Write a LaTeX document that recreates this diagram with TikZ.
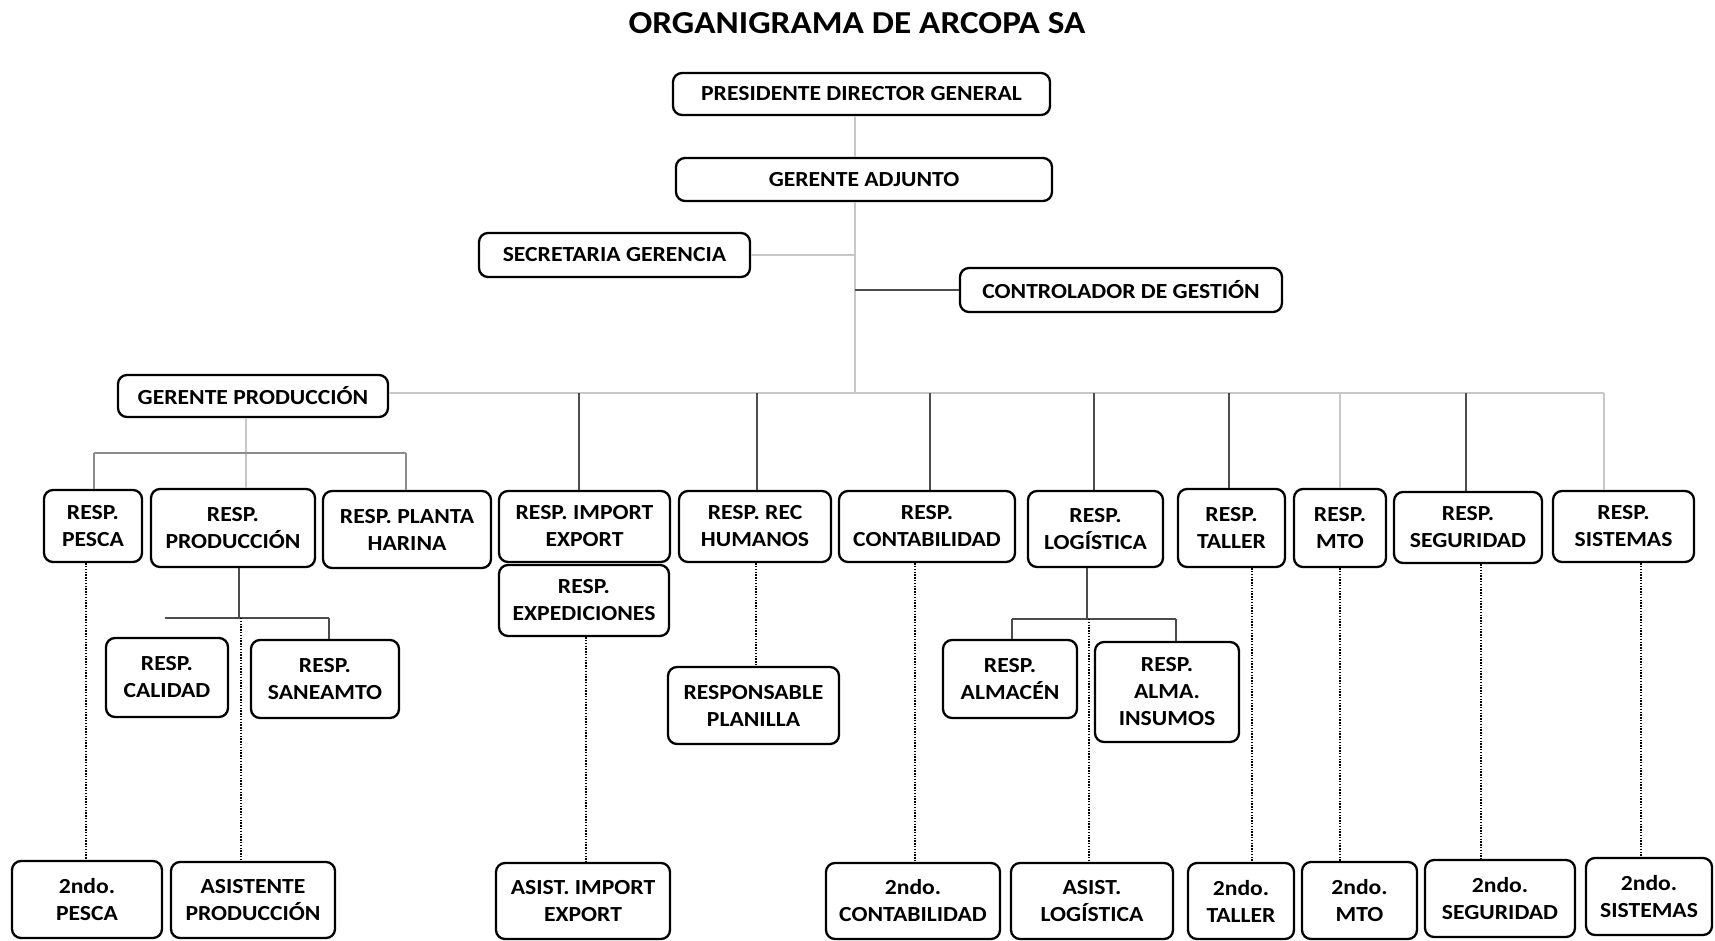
\documentclass[tikz,border=0pt]{standalone}
\usepackage{fontspec}
\setmainfont{Carlito}[FakeStretch=1.1]
\begin{document}
\begin{tikzpicture}[x=1pt,y=-1pt,
 box/.style={draw=black, line width=2.3pt, rounded corners=9pt, inner sep=0pt, align=center, font=\fontsize{21.5}{27}\selectfont\bfseries, fill=white},
 lt/.style={draw=black!22, line width=1.2pt},
 md/.style={draw=black!45, line width=1.3pt},
 dk/.style={draw=black!70, line width=1.4pt},
 dotl/.style={draw=black, line width=1.6pt, dash pattern=on 1.4pt off 1.4pt}]
\useasboundingbox[fill=white] (0,0) rectangle (1715,940);
\node[font=\fontsize{32}{38}\selectfont\bfseries] (title) at (857,23) {ORGANIGRAMA DE ARCOPA SA};
% top
\node[box, minimum width=377, minimum height=42] (pres) at (861.5,94) {PRESIDENTE DIRECTOR GENERAL};
\node[box, minimum width=376, minimum height=43] (ger) at (864,179.5) {GERENTE ADJUNTO};
\node[box, minimum width=271, minimum height=44] (sec) at (614.5,255) {SECRETARIA GERENCIA};
\node[box, minimum width=322, minimum height=44] (ctrl) at (1121,290) {CONTROLADOR DE GESTIÓN};
\node[box, minimum width=270, minimum height=42] (gprod) at (253,396) {GERENTE PRODUCCIÓN};
% row 1
\node[box, minimum width=98, minimum height=72] (pesca) at (93,526) {RESP.\\PESCA};
\node[box, minimum width=164, minimum height=78] (prod) at (233,528) {RESP.\\PRODUCCIÓN};
\node[box, minimum width=168, minimum height=77] (planta) at (407,529.5) {RESP. PLANTA\\HARINA};
\node[box, minimum width=171, minimum height=71] (imp) at (584.5,526.5) {RESP. IMPORT\\EXPORT};
\node[box, minimum width=152, minimum height=71] (rrhh) at (755,526.5) {RESP. REC\\HUMANOS};
\node[box, minimum width=176, minimum height=71] (cont) at (927,526.5) {RESP.\\CONTABILIDAD};
\node[box, minimum width=135, minimum height=76] (log) at (1095.5,529) {RESP.\\LOGÍSTICA};
\node[box, minimum width=107, minimum height=78] (taller) at (1231.5,528) {RESP.\\TALLER};
\node[box, minimum width=92, minimum height=78] (mto) at (1340,528) {RESP.\\MTO};
\node[box, minimum width=148, minimum height=71] (seg) at (1468,527.5) {RESP.\\SEGURIDAD};
\node[box, minimum width=141, minimum height=71] (sis) at (1623.5,526.5) {RESP.\\SISTEMAS};
% row 1b
\node[box, minimum width=170, minimum height=71] (exped) at (584,600.5) {RESP.\\EXPEDICIONES};
\node[box, minimum width=122, minimum height=79] (calidad) at (167,677.5) {RESP.\\CALIDAD};
\node[box, minimum width=148, minimum height=78] (sanea) at (325,679) {RESP.\\SANEAMTO};
\node[box, minimum width=171, minimum height=77] (planilla) at (753.5,705.5) {RESPONSABLE\\PLANILLA};
\node[box, minimum width=134, minimum height=78] (almacen) at (1010,679) {RESP.\\ALMACÉN};
\node[box, minimum width=144, minimum height=100] (insumos) at (1167,692) {RESP.\\ALMA.\\INSUMOS};
% row 2
\node[box, minimum width=150, minimum height=77] (p2) at (87,899.5) {2ndo.\\PESCA};
\node[box, minimum width=164, minimum height=76] (ap) at (253,900) {ASISTENTE\\PRODUCCIÓN};
\node[box, minimum width=174, minimum height=76] (aie) at (583,901) {ASIST. IMPORT\\EXPORT};
\node[box, minimum width=174, minimum height=76] (c2) at (913,901) {2ndo.\\CONTABILIDAD};
\node[box, minimum width=162, minimum height=76] (al) at (1092,901) {ASIST.\\LOGÍSTICA};
\node[box, minimum width=106, minimum height=76] (t2) at (1241,901) {2ndo.\\TALLER};
\node[box, minimum width=115, minimum height=77] (m2) at (1359.5,900.5) {2ndo.\\MTO};
\node[box, minimum width=150, minimum height=77] (s2) at (1500,898.5) {2ndo.\\SEGURIDAD};
\node[box, minimum width=126, minimum height=77] (si2) at (1649,896.5) {2ndo.\\SISTEMAS};
% coordinates
\coordinate (trunk) at (855,393);
\coordinate (gpbus) at (0,453);
\coordinate (prbus) at (0,618);
\coordinate (lgbus) at (0,619);
% top connectors
\draw[lt] (pres.south -| trunk) -- (ger.north -| trunk);
\draw[lt] (ger.south -| trunk) -- (trunk);
\draw[lt] (sec.east) -- (sec.east -| trunk);
\draw[dk] (ctrl.west) -- (ctrl.west -| trunk);
\draw[lt] (gprod.east |- trunk) -- (1604,393);
% drops from bus
\draw[dk] (579,393) -- (579,393 |- imp.north);
\draw[dk] (757,393) -- (757,393 |- rrhh.north);
\draw[dk] (930,393) -- (930,393 |- cont.north);
\draw[dk] (1094,393) -- (1094,393 |- log.north);
\draw[dk] (1229,393) -- (1229,393 |- taller.north);
\draw[lt] (1340,393) -- (1340,393 |- mto.north);
\draw[dk] (1466,393) -- (1466,393 |- seg.north);
\draw[lt] (1604,393) -- (1604,393 |- sis.north);
% gerente produccion subtree
\draw[lt] (gprod.south -| 246,0) -- (246,0 |- prod.north);
\draw[md] (94,0 |- gpbus) -- (406,0 |- gpbus);
\draw[md] (94,0 |- gpbus) -- (94,0 |- pesca.north);
\draw[md] (406,0 |- gpbus) -- (406,0 |- planta.north);
% produccion subtree
\draw[dk] (prod.south -| 239,0) -- (239,0 |- prbus);
\draw[dk] (165,0 |- prbus) -- (329,0 |- prbus);
\draw[dk] (329,0 |- prbus) -- (329,0 |- sanea.north);
% logistica subtree
\draw[dk] (log.south -| 1087,0) -- (1087,0 |- lgbus);
\draw[dk] (1012,0 |- lgbus) -- (1176,0 |- lgbus);
\draw[dk] (1012,0 |- lgbus) -- (1012,0 |- almacen.north);
\draw[dk] (1176,0 |- lgbus) -- (1176,0 |- insumos.north);
% dotted
\draw[dotl] (pesca.south -| 86,0) -- (86,0 |- p2.north);
\draw[dotl] (241,0 |- prbus) -- (241,0 |- ap.north);
\draw[dotl] (exped.south -| 586,0) -- (586,0 |- aie.north);
\draw[dotl] (rrhh.south -| 756,0) -- (756,0 |- planilla.north);
\draw[dotl] (cont.south -| 915,0) -- (915,0 |- c2.north);
\draw[dotl] (1089,0 |- lgbus) -- (1089,0 |- al.north);
\draw[dotl] (taller.south -| 1252,0) -- (1252,0 |- t2.north);
\draw[dotl] (mto.south -| 1340,0) -- (1340,0 |- m2.north);
\draw[dotl] (seg.south -| 1481,0) -- (1481,0 |- s2.north);
\draw[dotl] (sis.south -| 1641,0) -- (1641,0 |- si2.north);
\end{tikzpicture}
\end{document}
